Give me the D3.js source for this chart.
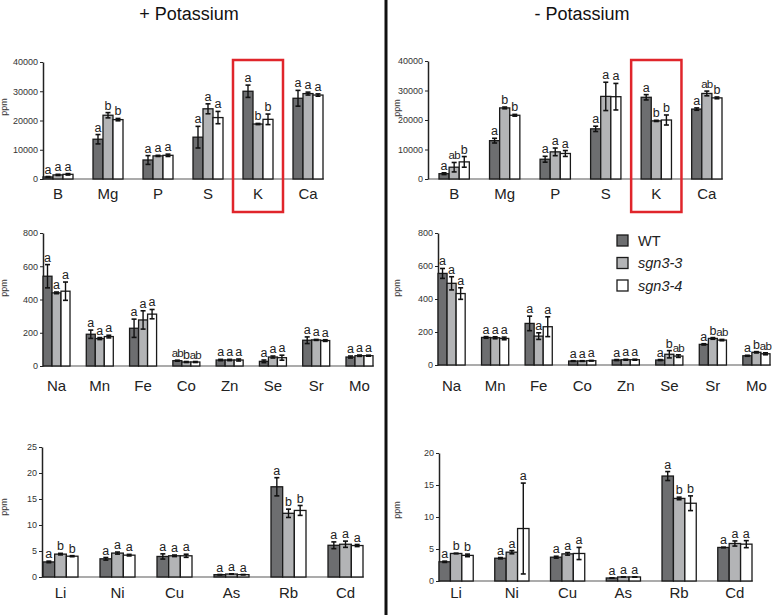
<!DOCTYPE html>
<html>
<head>
<meta charset="utf-8">
<script src="https://cdn.jsdelivr.net/npm/d3@7"></script>
<style>
  body { margin:0; background:#fff; }
  svg { font-family: "Liberation Sans", Arial, sans-serif; }
</style>
</head>
<body>
<svg id="chart" width="775" height="615"></svg>
<script>
// categories
var topCats = ["B","Mg","P","S","K","Ca"];
var midCats = ["Na","Mn","Fe","Co","Zn","Se","Sr","Mo"];
var lowCats = ["Li","Ni","Cu","As","Rb","Cd"];
var series = ["WT","sgn3-3","sgn3-4"];
var seriesColor = ["#6d6e70","#b3b4b6","#ffffff"];

// + Potassium, values per category: [WT, sgn3-3, sgn3-4]
var plusTopMean = [[700,1400,1600],[13600,21800,20300],[6500,7900,8100],[14300,24000,21000],[30000,18800,20400],[27600,29200,28700]];
var plusTopErr  = [[150,200,250],[1600,900,400],[1500,200,400],[3700,1700,2100],[2100,200,1800],[2700,500,400]];
var plusTopSig  = [["a","a","a"],["a","b","b"],["a","a","a"],["a","a","a"],["a","b","b"],["a","a","a"]];

var plusMidMean = [[540,440,450],[191,165,177],[227,277,312],[32,24,24],[36,36,36],[28,54,50],[155,157,153],[54,62,62]];
var plusMidErr  = [[70,5,55],[25,6,8],[55,55,28],[3,3,3],[4,4,6],[8,6,15],[20,3,5],[6,4,3]];
var plusMidSig  = [["a","a","a"],["a","a","a"],["a","a","a"],["ab","b","ab"],["a","a","a"],["a","a","a"],["a","a","a"],["a","a","a"]];

var plusLowMean = [[2.9,4.4,4.0],[3.5,4.6,4.2],[3.95,4.08,4.08],[0.45,0.57,0.45],[17.35,12.25,12.8],[6.1,6.3,6.05]];
var plusLowErr  = [[0.15,0.15,0.1],[0.25,0.2,0.15],[0.5,0.15,0.3],[0.03,0.03,0.03],[1.75,0.8,0.95],[0.65,0.6,0.2]];
var plusLowSig  = [["a","b","b"],["a","a","a"],["a","a","a"],["a","a","a"],["a","b","b"],["a","a","a"]];

// - Potassium
var minusTopMean = [[1800,4000,5800],[13000,24100,21600],[6700,9200,8650],[17000,28000,27900],[27700,19700,20000],[23700,29000,27500]];
var minusTopErr  = [[300,1600,1800],[800,300,300],[1000,1300,1000],[900,4800,4500],[900,200,1700],[400,800,300]];
var minusTopSig  = [["a","ab","b"],["a","b","b"],["a","a","a"],["a","a","a"],["a","b","b"],["a","ab","b"]];

var minusMidMean = [[555,495,433],[167,165,161],[252,175,232],[24,24,26],[30,32,32],[30,65,54],[125,161,151],[56,77,68]];
var minusMidErr  = [[30,40,35],[5,6,8],[44,20,60],[2,2,2],[3,3,3],[3,22,8],[4,5,4],[3,4,6]];
var minusMidSig  = [["a","a","a"],["a","a","a"],["a","a","a"],["a","a","a"],["a","a","a"],["a","b","ab"],["a","b","ab"],["a","b","ab"]];

var minusLowMean = [[3.0,4.3,4.0],[3.56,4.5,8.2],[3.72,4.24,4.3],[0.47,0.63,0.63],[16.4,12.9,12.15],[5.24,5.86,5.76]];
var minusLowErr  = [[0.1,0.05,0.2],[0.1,0.25,7.1],[0.15,0.2,0.95],[0.03,0.03,0.03],[0.7,0.2,1.15],[0.05,0.4,0.55]];
var minusLowSig  = [["a","b","b"],["a","a","a"],["a","a","a"],["a","a","a"],["a","b","b"],["a","a","a"]];

var svg = d3.select("#chart");

function drawPanel(p){
  var g = svg.append("g");
  var y = d3.scaleLinear().domain([0, p.max]).range([p.y0, p.y1]);
  var x = d3.scaleBand().domain(p.cats).range([p.bx0, p.bx1]).paddingInner(p.pad).paddingOuter(0);
  var xs = d3.scaleBand().domain(d3.range(3)).range([0, x.bandwidth()]);

  // baseline
  g.append("line").attr("x1", p.ax).attr("x2", p.bx1 + 1)
    .attr("y1", y(0)).attr("y2", y(0))
    .attr("stroke", "#8f8f8f").attr("stroke-width", 1.5);

  // y axis
  var yAxis = d3.axisLeft(y).tickValues(d3.range(0, p.max + p.step/2, p.step))
    .tickSize(3).tickSizeOuter(0).tickFormat(d3.format("d"));
  var ag = g.append("g").attr("transform", "translate(" + p.ax + ",0)").call(yAxis);
  ag.select(".domain").attr("stroke", "#222").attr("stroke-width", 1.5);
  ag.selectAll(".tick line").attr("stroke", "#222");
  ag.selectAll(".tick text").attr("font-size", 9).attr("fill", "#333")
    .attr("font-family", "'Liberation Sans', Arial, sans-serif").attr("x", -5);

  g.append("text").attr("transform", "translate(" + p.ppmX + "," + p.ppmY + ") rotate(-90)")
    .attr("text-anchor", "middle").attr("dy", "0.35em")
    .attr("font-size", 9).attr("fill", "#333").text("ppm");

  p.cats.forEach(function(c, i){
    var gx = x(c);
    for (var s = 0; s < 3; s++){
      var m = p.mean[i][s], e = p.err[i][s];
      var bx = gx + xs(s), bw = xs.bandwidth(), cx = bx + bw/2;
      g.append("rect").attr("x", bx).attr("y", y(m))
        .attr("width", bw).attr("height", y(0) - y(m))
        .attr("fill", seriesColor[s]).attr("stroke", "#1a1a1a").attr("stroke-width", 1.3);
      // error bar
      var hi = y(m + e), lo = y(Math.max(0, m - e));
      g.append("line").attr("x1", cx).attr("x2", cx).attr("y1", hi).attr("y2", lo)
        .attr("stroke", "#111").attr("stroke-width", 1.4);
      [hi, lo].forEach(function(yy){
        g.append("line").attr("x1", cx - 2.5).attr("x2", cx + 2.5).attr("y1", yy).attr("y2", yy)
          .attr("stroke", "#111").attr("stroke-width", 1.6);
      });
      var lab = p.sig[i][s];
      var t = g.append("text").attr("x", cx).attr("y", hi - 3)
        .attr("text-anchor", "middle").attr("fill", "#222").text(lab);
      if (lab.length > 1) t.attr("font-size", 11.5).attr("letter-spacing", -0.8);
      else t.attr("font-size", 12.5);
    }
    g.append("text").attr("x", gx + x.bandwidth()/2).attr("y", p.labelY)
      .attr("text-anchor", "middle").attr("font-size", 15).attr("fill", "#222").text(c);
  });

  if (p.box){
    var kx = x("K");
    g.append("rect").attr("x", kx - 10).attr("y", 60)
      .attr("width", x.bandwidth() + 20).attr("height", 152)
      .attr("fill", "none").attr("stroke", "#e0252b").attr("stroke-width", 2.5);
  }
}

var panels = [
  {cats: topCats, mean: plusTopMean, err: plusTopErr, sig: plusTopSig, max: 40000, step: 10000,
   ax: 43, bx0: 43, bx1: 323, pad: 0.4, y0: 179, y1: 62, labelY: 199, ppmX: 4, ppmY: 107, box: true},
  {cats: topCats, mean: minusTopMean, err: minusTopErr, sig: minusTopSig, max: 40000, step: 10000,
   ax: 428, bx0: 439, bx1: 722, pad: 0.4, y0: 179, y1: 61, labelY: 199, ppmX: 397, ppmY: 108, box: true},
  {cats: midCats, mean: plusMidMean, err: plusMidErr, sig: plusMidSig, max: 800, step: 200,
   ax: 43, bx0: 43, bx1: 373, pad: 0.376, y0: 366, y1: 233, labelY: 391, ppmX: 4, ppmY: 288},
  {cats: midCats, mean: minusMidMean, err: minusMidErr, sig: minusMidSig, max: 800, step: 200,
   ax: 438, bx0: 438, bx1: 770, pad: 0.376, y0: 365, y1: 233, labelY: 391, ppmX: 397, ppmY: 288},
  {cats: lowCats, mean: plusLowMean, err: plusLowErr, sig: plusLowSig, max: 25, step: 5,
   ax: 42, bx0: 43, bx1: 363, pad: 0.386, y0: 577, y1: 447, labelY: 598, ppmX: 4, ppmY: 507},
  {cats: lowCats, mean: minusLowMean, err: minusLowErr, sig: minusLowSig, max: 20, step: 5,
   ax: 439, bx0: 439, bx1: 752, pad: 0.386, y0: 581, y1: 453, labelY: 598, ppmX: 397, ppmY: 510}
];
panels.forEach(drawPanel);

// divider and titles
svg.append("line").attr("x1", 386).attr("x2", 386).attr("y1", 0).attr("y2", 615)
  .attr("stroke", "#111").attr("stroke-width", 3);
svg.append("text").attr("x", 189).attr("y", 20).attr("text-anchor", "middle")
  .attr("font-size", 18).attr("fill", "#111").text("+ Potassium");
svg.append("text").attr("x", 582).attr("y", 20).attr("text-anchor", "middle")
  .attr("font-size", 18).attr("fill", "#111").text("- Potassium");

// legend
var leg = svg.append("g").attr("transform", "translate(617,235)");
series.forEach(function(s, i){
  leg.append("rect").attr("x", 0).attr("y", i * 22.5).attr("width", 11).attr("height", 11)
    .attr("fill", seriesColor[i]).attr("stroke", "#1a1a1a").attr("stroke-width", 1.3);
  leg.append("text").attr("x", 21).attr("y", i * 22.5 + 10.5)
    .attr("font-size", 14.5).attr("fill", "#222")
    .attr("font-style", i === 0 ? "normal" : "italic").text(s);
});
</script>
</body>
</html>
